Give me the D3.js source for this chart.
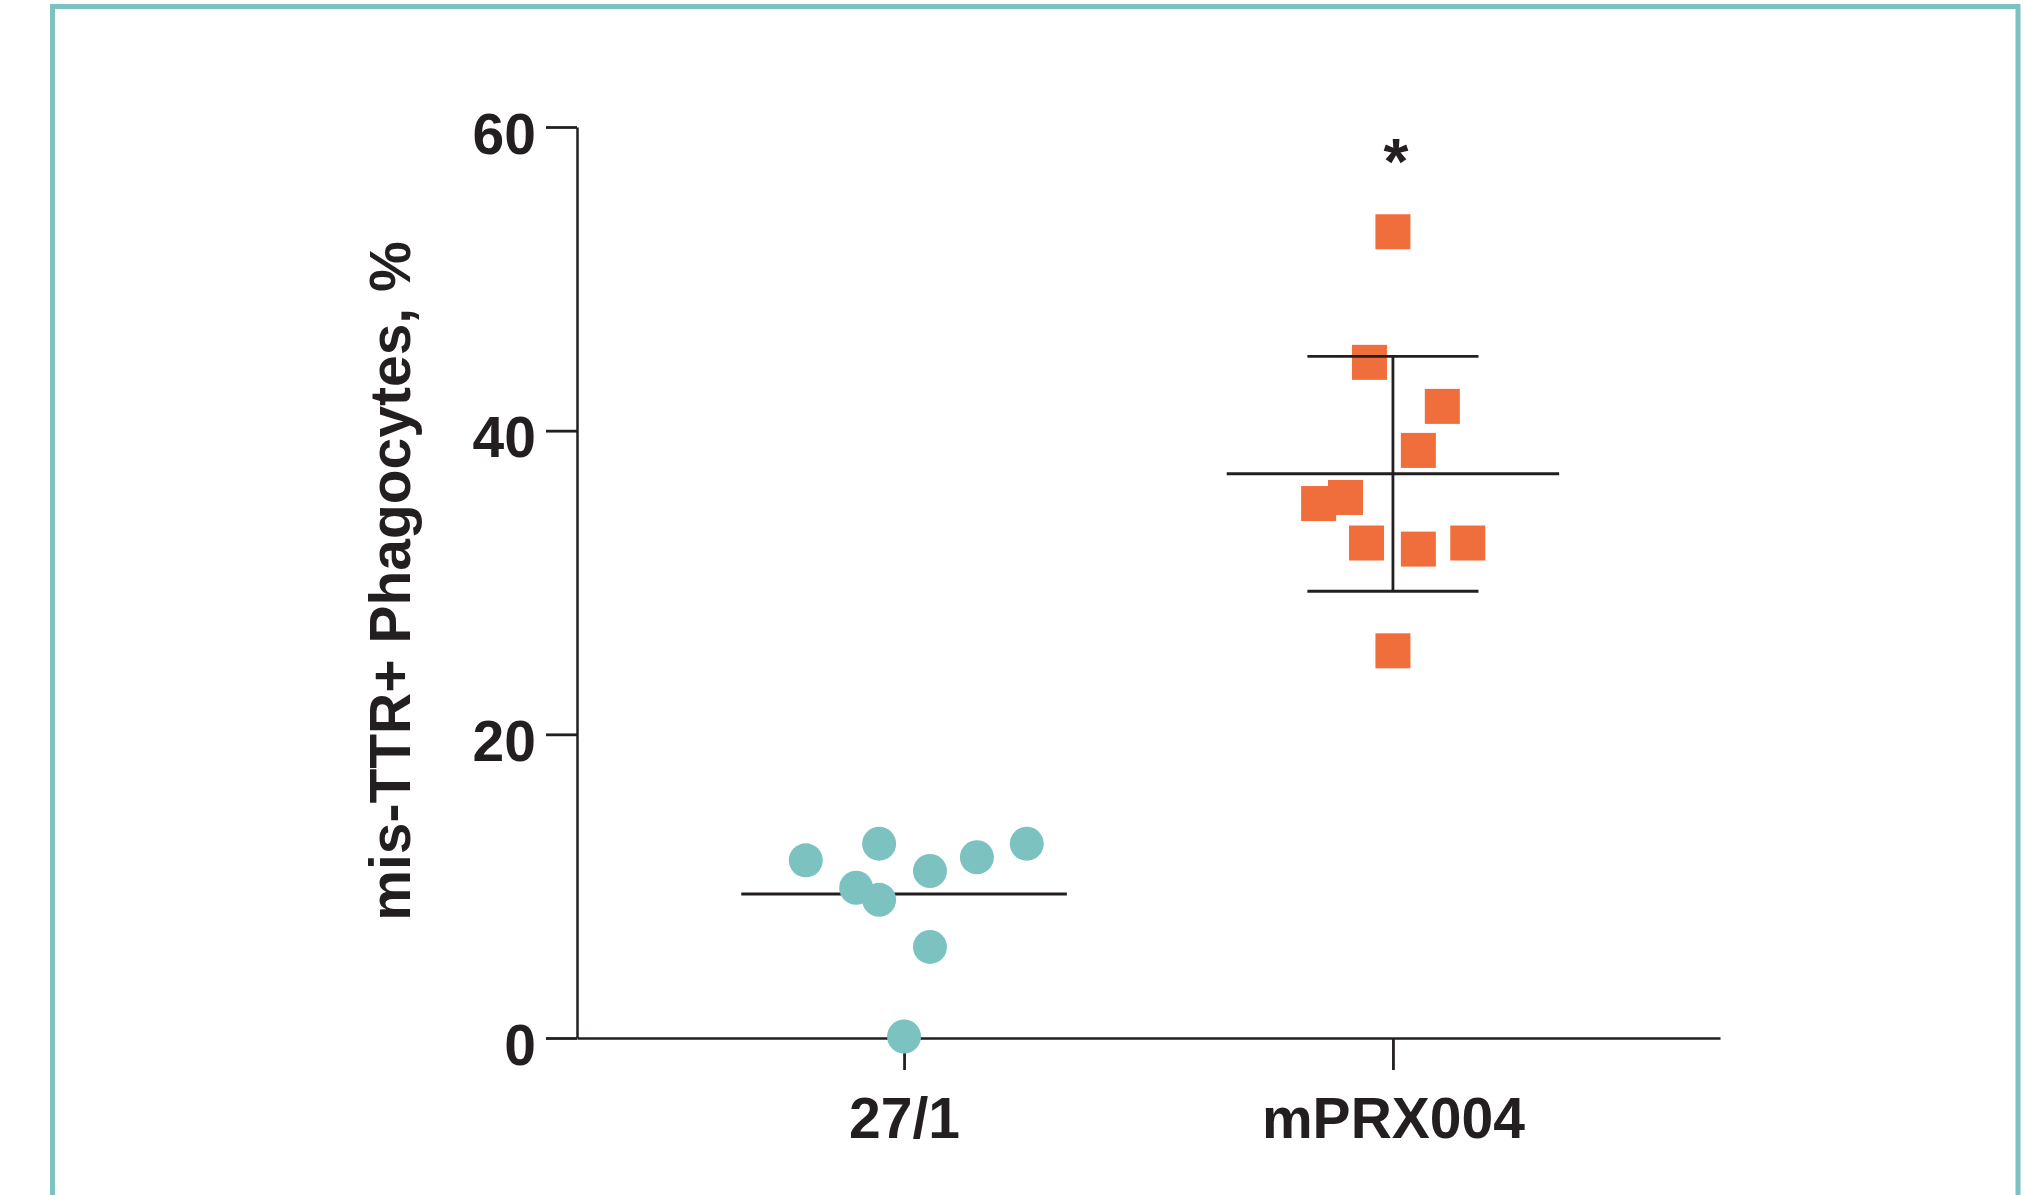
<!DOCTYPE html>
<html>
<head>
<meta charset="utf-8">
<script src="https://cdn.jsdelivr.net/npm/d3@7"></script>
<style>
  html, body { margin: 0; padding: 0; background: #ffffff; }
  svg { display: block; }
  text { font-family: "Liberation Sans", Arial, Helvetica, sans-serif; font-weight: bold; fill: #231f20; }
</style>
</head>
<body>
<svg id="chart" width="2025" height="1195"></svg>
<script>
// ---- data ----
const categories = ["27/1", "mPRX004"];
const yTicks = [0, 20, 40, 60];
const yLabel = "mis-TTR+ Phagocytes, %";
const significance = "*";

// 27/1 group values (%), with horizontal scatter offsets (fraction of category step)
const values271 = [11.7, 12.8, 9.9, 9.1, 11.0, 11.9, 12.8, 6.0, 0.1];
const jitter271 = [-0.201, -0.051, -0.098, -0.051, 0.053, 0.149, 0.251, 0.053, 0.0];

// mPRX004 group values (%)
const valuesPRX = [53.1, 44.5, 41.6, 38.7, 35.6, 35.2, 32.6, 32.2, 32.6, 25.5];
const jitterPRX = [0.0, -0.048, 0.101, 0.052, -0.097, -0.152, -0.054, 0.052, 0.153, 0.0];

// ---- layout ----
const svg = d3.select("#chart");
const teal = "#7cc2c0";
const orange = "#f06d3c";
const ink = "#231f20";

// frame
svg.append("path")
  .attr("d", "M52.5,1195 V6.5 H2018 V1195")
  .attr("fill", "none").attr("stroke", teal).attr("stroke-width", 5);

const x = d3.scalePoint().domain(categories).range([577, 1720]).padding(0.669);
const y = d3.scaleLinear().domain([0, 60]).range([1038, 127]);
const step = x.step();

// y axis
const yAxis = svg.append("g").attr("transform", "translate(577,0)")
  .call(d3.axisLeft(y).tickValues(yTicks).tickSize(31).tickSizeOuter(0).tickPadding(10));
yAxis.select(".domain").attr("stroke", ink).attr("stroke-width", 2.5);
yAxis.selectAll(".tick line").attr("stroke", ink).attr("stroke-width", 2.8);
yAxis.selectAll(".tick text").attr("font-size", 57).attr("dy", "0.46em")
  .style("font-family", "'Liberation Sans', Arial, sans-serif").style("font-weight", "bold").attr("fill", ink);

// x axis
const xAxis = svg.append("g").attr("transform", "translate(0,1038)")
  .call(d3.axisBottom(x).tickSize(32).tickSizeOuter(0).tickPadding(10));
xAxis.select(".domain").attr("stroke", ink).attr("stroke-width", 2.6);
xAxis.selectAll(".tick line").attr("stroke", ink).attr("stroke-width", 2.8);
xAxis.selectAll(".tick text").attr("font-size", 57).attr("dy", "0")
  .attr("y", 100)
  .style("font-family", "'Liberation Sans', Arial, sans-serif").style("font-weight", "bold").attr("fill", ink);

// y label
svg.append("text")
  .attr("transform", `translate(410,${(240 + 922) / 2}) rotate(-90)`)
  .attr("text-anchor", "middle")
  .attr("font-size", 57)
  .text(yLabel);

// 27/1 mean line (below markers)
const mean271 = d3.mean(values271);
const cx271 = x(categories[0]);
svg.append("line")
  .attr("x1", cx271 - 0.333 * step).attr("x2", cx271 + 0.333 * step)
  .attr("y1", y(mean271)).attr("y2", y(mean271))
  .attr("stroke", ink).attr("stroke-width", 3);

// circles
svg.append("g").selectAll("circle")
  .data(values271.map((v, i) => ({ v, j: jitter271[i] })))
  .join("circle")
  .attr("cx", d => cx271 + d.j * step)
  .attr("cy", d => y(d.v))
  .attr("r", 17)
  .attr("fill", teal);

// squares
const cxPRX = x(categories[1]);
const sq = 35;
svg.append("g").selectAll("rect")
  .data(valuesPRX.map((v, i) => ({ v, j: jitterPRX[i] })))
  .join("rect")
  .attr("x", d => cxPRX + d.j * step - sq / 2)
  .attr("y", d => y(d.v) - sq / 2)
  .attr("width", sq).attr("height", sq)
  .attr("fill", orange);

// mPRX004 mean ± SD
const meanPRX = d3.mean(valuesPRX);
const sdPRX = d3.deviation(valuesPRX);
const eb = svg.append("g").attr("stroke", ink);
eb.append("line")
  .attr("x1", cxPRX - 0.34 * step).attr("x2", cxPRX + 0.34 * step)
  .attr("y1", y(meanPRX)).attr("y2", y(meanPRX)).attr("stroke-width", 3);
eb.append("line")
  .attr("x1", cxPRX).attr("x2", cxPRX)
  .attr("y1", y(meanPRX + sdPRX)).attr("y2", y(meanPRX - sdPRX)).attr("stroke-width", 2.8);
[meanPRX + sdPRX, meanPRX - sdPRX].forEach(v => {
  eb.append("line")
    .attr("x1", cxPRX - 0.175 * step).attr("x2", cxPRX + 0.175 * step)
    .attr("y1", y(v)).attr("y2", y(v)).attr("stroke-width", 2.8);
});

// significance marker
svg.append("text")
  .attr("x", cxPRX + 3).attr("y", 184)
  .attr("text-anchor", "middle")
  .attr("font-size", 64)
  .text(significance);
</script>
</body>
</html>
